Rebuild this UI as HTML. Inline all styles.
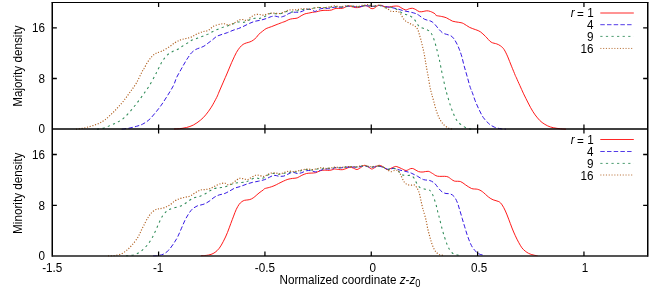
<!DOCTYPE html>
<html><head><meta charset="utf-8"><title>plot</title>
<style>
html,body{margin:0;padding:0;background:#fff;}
svg{display:block;}
text{font-family:"Liberation Sans",sans-serif;font-size:11.7px;fill:#000;}
</style></head><body>
<svg width="654" height="291" viewBox="0 0 654 291">
<rect width="654" height="291" fill="#fff"/>
<g fill="none" stroke-linecap="butt" stroke-linejoin="round">
<path d="M174.0,129.0C174.9,128.9 177.5,128.9 179.6,128.7C181.7,128.4 184.2,128.1 186.5,127.5C188.8,126.9 191.1,126.2 193.4,125.0C195.7,123.8 198.2,122.0 200.3,120.3C202.4,118.6 204.0,117.0 205.8,114.8C207.6,112.6 209.5,110.1 211.3,107.2C213.1,104.3 215.3,100.1 216.6,97.6C217.9,95.1 218.2,93.9 219.0,92.0C219.8,90.1 220.7,88.0 221.6,86.0C222.5,84.0 223.4,81.8 224.2,80.0C225.0,78.2 225.7,76.7 226.4,75.0C227.1,73.3 227.8,71.7 228.5,70.0C229.2,68.3 229.9,66.7 230.6,65.0C231.3,63.3 231.8,62.1 232.8,60.0C233.8,57.9 235.2,54.6 236.4,52.5C237.6,50.4 238.7,48.9 239.8,47.5C240.9,46.1 242.0,45.2 243.1,44.4C244.2,43.6 245.4,43.3 246.5,42.9C247.6,42.5 248.8,42.4 249.9,41.9C251.0,41.5 252.1,41.0 253.2,40.2C254.3,39.4 255.7,38.1 256.6,37.2C257.5,36.3 257.5,35.6 258.5,34.6C259.5,33.6 261.3,32.2 262.6,31.2C263.9,30.2 264.6,29.4 266.1,28.6C267.6,27.8 269.8,27.3 271.6,26.6C273.4,25.9 275.3,25.1 277.1,24.4C278.9,23.7 281.3,22.8 282.6,22.3C283.9,21.8 284.0,21.9 285.0,21.5C286.0,21.1 287.5,20.1 288.8,19.6C290.1,19.1 291.2,18.9 292.6,18.7C294.0,18.4 295.8,18.6 297.2,18.1C298.6,17.6 299.8,16.5 301.1,15.8C302.4,15.1 303.6,14.4 304.9,13.9C306.2,13.4 307.4,13.4 308.7,13.1C310.0,12.8 311.2,12.5 312.5,12.3C313.8,12.1 315.0,12.1 316.3,11.8C317.6,11.6 318.9,11.1 320.2,10.8C321.5,10.6 322.7,10.4 324.0,10.3C325.3,10.2 326.5,10.5 327.8,10.4C329.1,10.3 330.4,10.3 331.6,10.0C332.8,9.7 333.8,8.9 335.0,8.6C336.2,8.3 337.5,8.4 338.8,8.4C340.1,8.4 341.5,8.6 342.6,8.3C343.8,8.1 344.7,7.3 345.7,6.9C346.7,6.5 347.8,6.1 348.8,6.1C349.8,6.1 350.7,6.5 351.8,6.7C352.9,7.0 354.3,7.5 355.6,7.6C356.9,7.7 358.2,7.6 359.5,7.3C360.8,7.0 362.2,6.3 363.3,6.0C364.4,5.7 365.4,5.5 366.3,5.7C367.2,5.9 367.8,6.5 368.6,6.9C369.4,7.4 370.1,8.1 370.9,8.4C371.7,8.7 372.4,8.8 373.2,8.6C374.0,8.4 374.7,7.8 375.5,7.3C376.3,6.8 377.0,6.0 377.8,5.7C378.6,5.4 379.3,5.3 380.1,5.3C380.9,5.3 381.5,5.5 382.4,5.8C383.3,6.1 384.4,6.7 385.5,6.9C386.6,7.1 387.8,7.0 389.2,6.9C390.6,6.8 392.3,6.3 393.8,6.2C395.3,6.1 396.9,5.8 398.3,6.2C399.7,6.6 400.8,7.7 402.0,8.3C403.2,8.9 404.5,9.8 405.7,9.9C406.9,10.0 408.2,9.0 409.4,8.7C410.5,8.4 411.5,8.2 412.6,8.3C413.7,8.5 414.7,9.0 415.8,9.6C416.9,10.2 418.2,11.4 419.4,11.7C420.6,12.0 421.9,11.7 423.1,11.5C424.3,11.3 425.6,10.8 426.8,10.8C428.0,10.8 429.1,11.0 430.5,11.5C431.9,12.0 434.0,13.1 435.0,13.8C436.0,14.5 435.2,15.1 436.3,15.5C437.4,15.9 440.0,16.1 441.7,16.5C443.4,16.9 444.6,17.0 446.4,17.8C448.2,18.6 450.6,20.4 452.6,21.2C454.7,21.9 456.9,21.9 458.7,22.3C460.5,22.7 461.6,22.6 463.4,23.5C465.2,24.4 467.6,26.4 469.6,27.4C471.7,28.4 473.9,29.0 475.7,29.7C477.5,30.4 478.8,30.7 480.4,31.8C482.0,32.9 483.8,34.8 485.6,36.5C487.4,38.2 489.2,40.9 491.1,42.1C493.0,43.3 495.1,43.3 496.7,43.9C498.2,44.5 499.2,44.9 500.4,45.8C501.6,46.7 502.9,47.6 504.1,49.5C505.3,51.4 506.6,54.1 507.8,56.9C509.0,59.7 510.2,63.1 511.5,66.2C512.8,69.3 514.5,73.5 515.3,75.5C516.1,77.5 515.8,76.3 516.5,78.0C517.2,79.7 518.6,82.8 519.8,85.4C521.0,88.0 522.2,90.9 523.6,93.8C525.0,96.7 526.7,100.1 528.2,103.0C529.7,105.9 531.2,108.9 532.8,111.4C534.3,113.9 536.0,116.1 537.5,117.9C539.0,119.8 540.4,121.2 542.1,122.5C543.8,123.8 545.9,125.0 547.7,125.9C549.6,126.8 551.0,127.2 553.2,127.7C555.4,128.2 558.6,128.6 560.7,128.8C562.8,129.1 565.1,129.1 566.0,129.2" stroke="#ff0000" stroke-width="0.9"/>
<path d="M121.7,129.2C122.9,129.0 126.5,128.7 129.0,128.2C131.5,127.7 134.2,127.0 136.5,126.3C138.8,125.6 140.6,125.2 142.7,124.1C144.8,123.0 146.8,121.7 148.9,119.9C151.0,118.1 152.9,115.7 155.0,113.2C157.1,110.7 159.2,108.0 161.3,105.1C163.4,102.2 165.4,98.9 167.5,95.6C169.6,92.3 172.1,88.3 173.6,85.3C175.1,82.2 175.4,80.0 176.7,77.3C178.0,74.6 179.9,71.6 181.2,69.2C182.5,66.8 183.5,65.0 184.7,63.0C185.8,61.0 186.9,59.2 188.1,57.5C189.2,55.8 190.3,54.0 191.6,52.7C192.9,51.4 194.3,50.3 195.7,49.5C197.1,48.7 198.4,48.4 199.8,47.9C201.2,47.4 202.5,47.0 203.9,46.2C205.3,45.4 206.7,44.2 208.1,43.1C209.5,42.0 211.0,41.0 212.4,39.9C213.8,38.8 214.9,37.4 216.5,36.5C218.1,35.6 220.2,35.0 222.0,34.4C223.8,33.8 225.7,33.3 227.5,32.6C229.3,31.9 231.2,31.0 233.0,30.3C234.8,29.6 236.7,29.2 238.5,28.5C240.3,27.8 242.2,27.0 244.0,26.1C245.8,25.2 247.7,24.2 249.5,23.4C251.3,22.6 253.2,21.8 255.0,21.3C256.8,20.8 258.6,20.6 260.5,20.2C262.4,19.8 264.2,19.2 266.1,18.6C268.0,18.0 270.0,16.9 271.6,16.5C273.2,16.1 274.3,16.1 275.7,16.2C277.1,16.3 278.4,17.2 279.8,17.2C281.2,17.2 282.9,16.5 283.9,16.2C284.9,15.9 285.0,15.8 285.8,15.4C286.6,15.0 287.7,14.0 288.8,13.5C289.9,13.0 291.3,12.5 292.6,12.3C293.9,12.1 295.4,12.3 296.5,12.3C297.6,12.3 298.5,12.3 299.5,12.1C300.5,11.9 301.6,11.6 302.6,11.2C303.6,10.8 304.6,9.9 305.6,9.6C306.6,9.3 307.7,9.3 308.7,9.3C309.7,9.3 310.5,9.3 311.4,9.6C312.3,9.9 313.4,10.9 314.1,11.2C314.8,11.5 315.0,11.5 315.6,11.3C316.2,11.1 317.0,10.4 317.9,10.0C318.8,9.6 319.8,8.9 320.9,8.7C322.0,8.4 323.5,8.6 324.8,8.5C326.1,8.4 327.5,8.4 328.6,8.3C329.7,8.2 330.6,7.9 331.6,7.7C332.6,7.5 333.6,7.3 334.7,7.2C335.8,7.1 336.8,7.2 338.0,7.2C339.2,7.2 340.7,7.3 342.0,7.2C343.3,7.1 344.7,6.6 346.0,6.4C347.3,6.2 348.7,6.0 350.0,6.0C351.3,6.0 352.7,6.4 354.0,6.6C355.3,6.8 356.7,7.1 358.0,7.0C359.3,6.9 360.7,6.4 362.0,6.2C363.3,6.0 364.7,5.7 366.0,5.7C367.3,5.7 368.7,6.1 370.0,6.2C371.3,6.3 372.8,6.5 374.0,6.4C375.2,6.3 376.0,5.9 377.0,5.7C378.0,5.5 378.3,5.3 380.0,5.5C381.7,5.7 385.2,6.5 387.3,6.9C389.4,7.3 391.0,7.4 392.8,7.8C394.6,8.2 396.5,8.7 398.3,9.2C400.1,9.7 402.0,10.4 403.9,10.8C405.8,11.2 407.6,11.5 409.4,11.9C411.2,12.3 413.4,12.8 414.9,13.3C416.4,13.8 416.9,14.0 418.5,15.0C420.1,16.0 422.6,18.3 424.7,19.3C426.8,20.3 429.2,20.4 430.9,21.2C432.6,22.0 433.5,23.0 434.8,24.3C436.1,25.6 437.3,27.5 438.6,28.9C439.9,30.3 441.2,31.9 442.5,32.8C443.8,33.7 445.0,33.8 446.4,34.3C447.8,34.8 449.7,35.1 451.0,35.9C452.3,36.7 453.1,37.6 454.1,39.0C455.1,40.4 456.3,42.6 457.2,44.4C458.1,46.2 458.7,47.8 459.5,49.8C460.3,51.8 461.0,53.9 461.8,56.6C462.6,59.3 463.2,62.5 464.1,65.8C465.0,69.1 466.2,73.0 467.2,76.6C468.2,80.2 469.4,84.8 470.3,87.5C471.2,90.2 471.5,90.4 472.3,92.5C473.1,94.6 473.9,97.4 475.0,100.3C476.1,103.2 477.8,107.0 479.2,109.9C480.6,112.8 481.7,115.2 483.3,117.5C484.9,119.8 487.0,122.0 488.8,123.6C490.6,125.2 492.2,126.2 494.3,127.1C496.4,128.0 499.2,128.5 501.2,128.8C503.1,129.2 505.2,129.1 506.0,129.2" stroke="#3418e4" stroke-width="1.0" stroke-dasharray="4.47 2.23"/>
<path d="M97.0,129.2C98.2,129.0 101.5,128.7 104.0,128.0C106.5,127.3 109.5,125.8 111.8,124.8C114.1,123.8 115.9,123.1 118.0,121.9C120.1,120.7 122.2,119.5 124.2,117.7C126.2,115.9 128.2,113.7 130.3,111.3C132.4,108.9 134.4,106.3 136.5,103.6C138.6,100.9 140.6,98.2 142.7,95.3C144.8,92.4 146.8,89.6 148.9,86.3C151.0,83.0 153.4,78.5 155.0,75.5C156.6,72.5 157.4,70.6 158.5,68.5C159.6,66.4 160.4,64.6 161.3,63.0C162.2,61.4 163.0,60.3 164.0,58.9C165.0,57.5 166.1,56.0 167.5,54.8C168.9,53.6 170.6,52.6 172.3,51.7C174.0,50.8 176.2,50.2 177.8,49.3C179.4,48.4 180.3,47.5 181.9,46.5C183.5,45.5 185.8,44.1 187.4,43.1C189.0,42.1 190.0,41.1 191.6,40.3C193.2,39.5 195.3,39.0 197.1,38.3C198.9,37.6 200.8,36.9 202.6,36.2C204.4,35.5 206.2,35.0 208.1,34.1C210.0,33.2 211.7,32.0 213.8,31.0C215.9,30.0 218.3,29.1 220.6,28.2C222.9,27.3 225.2,26.7 227.5,25.9C229.8,25.1 232.6,24.0 234.4,23.4C236.2,22.8 237.1,22.2 238.5,22.0C239.9,21.8 241.3,22.5 242.7,22.4C244.1,22.3 245.4,21.8 246.8,21.3C248.2,20.8 249.5,19.8 250.9,19.3C252.3,18.8 253.6,18.3 255.0,18.2C256.4,18.1 257.8,18.8 259.2,18.6C260.6,18.4 261.9,17.8 263.3,17.2C264.7,16.6 266.0,15.6 267.4,14.9C268.8,14.2 270.2,13.5 271.6,13.3C273.0,13.1 274.3,13.7 275.7,13.8C277.1,13.9 278.4,14.0 279.8,13.8C281.2,13.6 282.8,13.2 283.9,12.8C285.0,12.4 285.1,11.7 286.5,11.6C287.9,11.5 290.1,12.1 292.0,12.0C293.9,11.9 295.8,11.2 297.6,10.8C299.4,10.4 300.9,9.8 302.6,9.6C304.3,9.3 306.0,9.6 307.9,9.3C309.8,9.1 312.2,8.4 314.1,8.1C316.0,7.8 317.6,7.6 319.4,7.5C321.2,7.4 322.9,7.8 324.8,7.7C326.7,7.6 329.2,7.2 330.9,7.0C332.5,6.8 333.5,6.6 334.7,6.6C335.9,6.6 336.8,6.9 338.0,6.9C339.2,7.0 340.7,7.0 342.0,6.9C343.3,6.8 344.7,6.4 346.0,6.2C347.3,6.0 348.7,5.9 350.0,5.9C351.3,5.9 352.7,6.3 354.0,6.4C355.3,6.5 356.7,6.8 358.0,6.7C359.3,6.6 360.7,6.2 362.0,6.0C363.3,5.8 364.7,5.6 366.0,5.6C367.3,5.6 368.7,5.9 370.0,6.0C371.3,6.1 372.8,6.3 374.0,6.2C375.2,6.1 376.0,5.7 377.0,5.6C378.0,5.5 378.6,5.1 380.0,5.5C381.4,5.9 383.7,7.5 385.5,7.8C387.3,8.1 389.3,7.2 391.0,7.3C392.7,7.4 394.1,7.9 395.6,8.7C397.1,9.5 398.7,11.0 400.2,11.9C401.7,12.8 403.3,13.6 404.8,14.2C406.3,14.8 407.8,14.6 409.3,15.4C410.8,16.2 412.6,17.5 413.9,18.9C415.2,20.2 416.0,22.1 417.0,23.5C418.0,24.9 418.4,26.1 420.1,27.1C421.8,28.1 425.2,28.8 427.0,29.7C428.8,30.6 429.9,31.5 430.9,32.8C431.9,34.1 432.4,35.5 433.2,37.4C434.0,39.3 434.9,42.2 435.5,44.4C436.1,46.6 436.6,48.5 437.1,50.5C437.6,52.5 438.2,55.2 438.6,56.7C439.0,58.2 439.0,58.0 439.4,59.8C439.8,61.6 440.3,64.3 440.9,67.4C441.5,70.5 442.4,74.6 443.2,78.2C444.0,81.8 444.9,86.5 445.5,89.0C446.1,91.5 446.1,91.2 446.8,93.5C447.5,95.8 448.6,99.8 449.6,103.0C450.6,106.2 451.7,109.6 453.0,112.6C454.3,115.6 455.6,118.7 457.2,120.9C458.8,123.1 460.9,124.6 462.7,125.9C464.5,127.2 466.5,128.0 468.2,128.5C469.9,129.1 472.2,129.1 473.0,129.2" stroke="#2e8b57" stroke-width="1.05" stroke-dasharray="2.23 3.35"/>
<path d="M76.0,129.2C77.0,129.1 80.2,128.7 82.0,128.4C83.8,128.1 85.3,127.8 87.1,127.3C88.9,126.8 90.9,126.3 93.0,125.6C95.1,124.9 97.4,124.1 99.5,123.1C101.6,122.1 103.5,121.0 105.5,119.4C107.5,117.8 109.7,115.7 111.8,113.7C113.9,111.7 115.9,109.6 118.0,107.3C120.1,105.0 122.2,102.7 124.2,100.1C126.2,97.5 128.2,94.7 130.3,91.8C132.4,88.9 134.4,86.3 136.5,82.8C138.6,79.2 141.4,72.9 142.7,70.5C144.0,68.1 143.3,69.9 144.1,68.5C144.9,67.1 146.2,64.2 147.5,62.3C148.8,60.3 150.2,58.3 151.6,56.8C153.0,55.3 154.2,54.3 155.8,53.4C157.4,52.5 159.2,52.3 161.3,51.3C163.4,50.3 165.9,49.0 168.2,47.6C170.5,46.2 172.9,44.0 175.0,42.7C177.1,41.4 178.7,40.6 180.5,39.9C182.3,39.2 184.2,39.0 186.1,38.5C187.9,38.0 189.8,37.7 191.6,36.9C193.4,36.1 195.3,34.8 197.1,33.9C198.9,33.0 200.8,32.3 202.6,31.7C204.4,31.1 206.2,31.4 208.1,30.5C210.0,29.6 211.7,27.2 213.8,26.1C215.9,25.0 218.9,24.5 220.6,24.1C222.3,23.7 222.9,23.6 224.1,23.7C225.2,23.8 226.3,24.7 227.5,24.8C228.7,24.9 229.6,25.0 231.0,24.5C232.4,24.0 234.3,22.8 235.8,22.0C237.3,21.2 238.5,20.1 239.9,19.7C241.3,19.3 242.8,19.5 244.0,19.7C245.2,19.9 245.7,21.0 246.8,20.6C248.0,20.2 249.5,18.2 250.9,17.2C252.3,16.2 253.6,15.2 255.0,14.7C256.4,14.2 257.8,14.3 259.2,14.4C260.6,14.5 261.9,15.2 263.3,15.1C264.7,15.0 266.0,14.3 267.4,14.0C268.8,13.7 270.2,13.2 271.6,13.1C273.0,13.0 274.3,13.2 275.7,13.3C277.1,13.4 278.4,13.7 279.8,13.5C281.2,13.3 282.8,12.5 283.9,12.1C285.0,11.7 285.6,11.2 286.5,10.8C287.4,10.5 288.5,10.2 289.6,10.0C290.8,9.8 292.0,10.0 293.4,9.9C294.8,9.8 296.5,9.8 298.0,9.6C299.5,9.4 301.1,8.8 302.6,8.7C304.1,8.6 305.8,8.8 307.2,8.9C308.6,9.0 309.9,9.2 311.0,9.0C312.1,8.8 312.8,8.3 314.1,8.0C315.4,7.7 317.1,7.5 318.6,7.4C320.1,7.4 321.7,7.7 323.2,7.7C324.7,7.7 326.5,7.4 327.8,7.2C329.1,7.0 329.9,6.8 330.9,6.6C331.9,6.4 332.7,5.8 333.9,5.8C335.1,5.8 336.6,6.3 338.0,6.4C339.4,6.5 340.7,6.7 342.0,6.6C343.3,6.5 344.7,6.0 346.0,5.8C347.3,5.6 348.7,5.5 350.0,5.6C351.3,5.7 352.7,6.1 354.0,6.2C355.3,6.3 356.7,6.5 358.0,6.4C359.3,6.3 360.7,5.7 362.0,5.4C363.3,5.2 365.0,5.0 366.0,4.9C367.0,4.8 367.2,4.5 368.0,4.6C368.8,4.7 370.0,5.3 371.0,5.6C372.0,5.9 373.0,6.2 374.0,6.2C375.0,6.2 376.0,5.6 377.0,5.4C378.0,5.2 378.7,4.8 380.0,5.0C381.3,5.2 383.2,6.2 384.6,6.9C386.0,7.6 387.2,8.5 388.3,9.2C389.4,9.9 389.9,10.9 391.0,11.3C392.1,11.7 393.5,11.4 394.7,11.5C395.9,11.6 397.3,11.3 398.3,11.7C399.3,12.1 399.8,12.8 400.6,13.8C401.4,14.8 402.0,16.7 402.9,17.9C403.8,19.1 404.6,20.2 405.7,21.1C406.8,22.0 408.3,22.7 409.4,23.3C410.5,23.9 411.4,24.1 412.4,24.6C413.4,25.2 414.6,25.8 415.5,26.6C416.4,27.5 417.2,28.4 417.8,29.7C418.4,31.0 418.8,32.6 419.3,34.3C419.8,36.0 420.4,37.8 420.9,39.7C421.4,41.6 421.9,43.7 422.4,45.9C422.9,48.1 423.5,50.5 424.0,52.9C424.5,55.2 424.8,57.9 425.2,60.0C425.6,62.1 425.7,63.0 426.2,65.8C426.7,68.6 427.5,73.0 428.2,76.6C428.9,80.2 429.5,84.6 430.1,87.5C430.7,90.4 431.1,91.7 431.7,94.0C432.3,96.3 433.0,98.7 433.8,101.6C434.6,104.5 435.5,108.3 436.5,111.3C437.5,114.3 438.7,117.2 440.0,119.5C441.3,121.8 442.6,123.5 444.1,125.0C445.6,126.5 447.4,127.6 448.9,128.3C450.4,129.0 452.3,129.0 453.0,129.2" stroke="#b06020" stroke-width="1.15" stroke-dasharray="1.12 1.68"/>
<path d="M201.0,255.7C201.9,255.6 204.5,255.6 206.2,255.4C207.9,255.2 209.5,254.9 211.0,254.4C212.5,253.9 213.7,253.3 215.1,252.3C216.5,251.3 217.9,250.0 219.3,248.2C220.7,246.4 222.0,243.9 223.4,241.3C224.8,238.7 226.3,235.4 227.5,232.4C228.7,229.4 229.8,226.2 230.8,223.5C231.8,220.8 232.7,218.5 233.6,216.1C234.5,213.7 235.4,211.2 236.3,209.3C237.2,207.4 238.2,205.7 239.1,204.4C240.0,203.1 240.9,202.4 241.8,201.7C242.7,201.0 243.6,200.6 244.6,200.3C245.6,200.0 246.8,200.1 248.0,199.9C249.2,199.7 250.3,199.5 251.5,198.9C252.7,198.3 253.7,197.6 254.9,196.6C256.1,195.6 257.6,194.1 259.0,193.0C260.4,191.9 262.2,190.7 263.2,190.0C264.1,189.3 263.7,189.0 264.7,188.6C265.7,188.2 267.8,187.9 269.4,187.4C270.9,186.9 272.5,186.5 274.0,185.8C275.5,185.2 277.1,184.3 278.6,183.5C280.2,182.7 281.8,181.9 283.3,181.2C284.9,180.5 286.3,179.8 287.9,179.3C289.4,178.8 291.1,178.7 292.6,178.4C294.2,178.2 295.7,178.3 297.2,177.8C298.7,177.3 300.2,176.0 301.8,175.3C303.4,174.6 304.9,173.9 306.5,173.5C308.1,173.1 309.6,173.2 311.1,173.1C312.6,173.0 314.1,173.1 315.7,172.7C317.2,172.3 318.8,171.1 320.4,170.7C321.9,170.3 323.5,170.1 325.0,170.1C326.5,170.1 328.1,170.6 329.6,170.4C331.2,170.2 333.4,169.3 334.3,169.1C335.2,168.9 334.3,168.9 335.0,169.0C335.7,169.1 337.5,169.4 338.7,169.5C339.9,169.6 341.1,169.8 342.3,169.7C343.5,169.5 344.8,169.0 346.0,168.6C347.2,168.2 348.5,167.3 349.7,167.2C350.9,167.1 352.1,167.7 353.3,168.1C354.5,168.5 355.8,169.6 357.0,169.5C358.2,169.4 359.5,168.3 360.7,167.6C361.9,166.9 363.2,165.5 364.4,165.3C365.6,165.2 366.8,166.1 368.0,166.7C369.2,167.3 370.5,168.9 371.7,169.0C372.9,169.1 374.2,167.8 375.4,167.2C376.6,166.6 377.8,165.4 379.0,165.3C380.2,165.2 381.5,166.1 382.7,166.7C383.9,167.3 385.5,168.5 386.4,169.0C387.3,169.5 387.4,169.8 388.2,169.7C389.0,169.6 389.9,168.8 391.0,168.3C392.1,167.8 393.6,167.0 394.6,166.7C395.6,166.4 395.7,166.3 396.8,166.6C397.9,166.9 399.9,167.9 401.5,168.6C403.1,169.2 404.6,170.5 406.1,170.5C407.6,170.5 409.4,168.9 410.7,168.6C412.0,168.3 412.5,168.4 413.8,168.9C415.1,169.4 416.9,171.1 418.5,171.6C420.1,172.1 421.5,172.1 423.1,172.0C424.7,171.9 426.6,171.1 428.2,171.3C429.8,171.5 430.8,172.6 432.4,173.4C433.9,174.2 435.1,175.7 437.5,176.2C439.9,176.7 444.4,176.0 446.7,176.5C449.0,177.0 450.1,178.5 451.4,179.3C452.7,180.1 453.0,180.7 454.5,181.1C456.0,181.5 458.8,181.0 460.6,181.6C462.4,182.2 463.5,183.5 465.3,184.7C467.1,185.8 469.4,187.7 471.5,188.5C473.6,189.3 475.8,188.8 477.6,189.3C479.4,189.8 480.5,190.3 482.3,191.6C484.1,192.9 486.7,195.6 488.5,197.0C490.3,198.4 491.4,199.0 493.1,199.8C494.8,200.6 497.3,200.8 498.8,201.6C500.3,202.4 501.0,203.3 502.1,204.9C503.2,206.5 504.3,208.6 505.4,211.0C506.5,213.4 507.6,216.4 508.7,219.2C509.8,222.0 510.9,225.2 512.0,228.0C513.1,230.8 514.2,233.3 515.3,235.7C516.4,238.1 517.5,240.3 518.6,242.3C519.7,244.3 520.8,246.3 521.9,247.8C523.0,249.3 524.1,250.2 525.2,251.1C526.3,252.0 527.4,252.7 528.5,253.3C529.6,253.9 530.7,254.2 531.8,254.6C532.9,254.9 534.0,255.2 535.0,255.4C536.0,255.6 537.1,255.6 537.5,255.7" stroke="#ff0000" stroke-width="0.9"/>
<path d="M153.0,255.8C153.8,255.8 156.1,255.8 157.8,255.5C159.5,255.2 161.5,255.1 163.3,254.2C165.1,253.3 167.0,251.9 168.8,250.0C170.6,248.1 172.7,245.0 174.2,242.7C175.7,240.4 176.7,238.8 177.9,236.4C179.1,234.0 180.3,230.9 181.5,228.2C182.7,225.5 183.9,222.4 185.1,220.0C186.3,217.6 187.6,215.4 188.8,213.6C190.0,211.8 190.8,210.5 192.2,209.2C193.6,207.9 195.3,206.8 197.3,205.9C199.3,205.1 202.0,204.9 204.0,204.1C206.0,203.3 207.4,202.4 209.1,201.3C210.8,200.2 212.4,198.5 214.1,197.4C215.8,196.3 217.5,195.5 219.2,194.9C220.9,194.3 222.5,194.3 224.2,193.7C225.9,193.1 227.6,192.1 229.3,191.2C231.0,190.3 232.5,189.1 234.3,188.3C236.1,187.5 238.0,187.3 240.0,186.6C242.0,185.9 244.1,185.0 246.2,184.3C248.3,183.6 250.3,182.9 252.4,182.4C254.5,181.9 256.4,181.7 258.5,181.2C260.6,180.7 262.9,180.2 264.7,179.6C266.5,178.9 267.8,178.0 269.4,177.3C270.9,176.6 272.5,175.5 274.0,175.3C275.5,175.1 277.1,176.0 278.6,176.2C280.2,176.3 281.8,176.5 283.3,176.2C284.9,175.9 286.3,174.9 287.9,174.2C289.4,173.5 291.1,172.3 292.6,172.2C294.2,172.1 295.7,173.4 297.2,173.5C298.7,173.6 300.2,173.2 301.8,172.7C303.4,172.2 304.9,171.0 306.5,170.7C308.1,170.4 309.6,170.5 311.1,170.7C312.6,170.9 314.1,171.9 315.7,171.9C317.2,171.9 318.8,170.9 320.4,170.4C321.9,169.9 322.9,169.4 325.0,169.1C327.1,168.8 331.0,169.1 332.7,168.8C334.4,168.6 333.7,167.8 335.0,167.6C336.3,167.4 338.7,168.0 340.5,167.9C342.3,167.8 344.2,167.3 346.0,167.2C347.8,167.0 349.7,167.0 351.5,167.0C353.3,167.0 355.3,167.3 357.0,167.2C358.7,167.1 360.2,166.5 361.6,166.3C363.0,166.1 363.9,165.9 365.3,166.1C366.7,166.2 368.5,167.0 369.9,167.2C371.3,167.3 372.0,167.2 373.5,167.0C375.0,166.8 377.5,166.3 379.0,166.3C380.5,166.3 381.5,166.8 382.7,167.2C383.9,167.6 385.3,168.4 386.4,168.8C387.5,169.2 388.2,169.5 389.1,169.5C390.0,169.5 391.0,168.8 391.9,168.6C392.8,168.4 393.3,168.2 394.6,168.4C395.9,168.7 398.0,169.6 399.9,170.1C401.8,170.6 404.2,171.0 406.1,171.5C408.0,172.0 409.3,172.3 411.2,173.1C413.1,173.9 415.3,175.1 417.4,176.2C419.4,177.3 421.4,178.9 423.5,179.6C425.6,180.3 427.9,179.9 429.7,180.5C431.5,181.1 433.0,181.9 434.4,183.1C435.8,184.3 436.9,186.3 438.2,187.8C439.5,189.3 440.8,191.0 442.1,191.9C443.4,192.8 444.6,193.2 446.0,193.5C447.4,193.8 449.2,193.4 450.6,194.0C452.0,194.6 453.3,195.5 454.5,197.0C455.7,198.5 456.7,201.0 457.6,203.2C458.5,205.4 458.9,207.5 459.7,210.0C460.5,212.5 461.4,215.6 462.2,218.4C463.0,221.2 463.8,224.0 464.7,226.8C465.6,229.6 466.4,232.8 467.3,235.3C468.2,237.8 469.0,240.0 469.8,242.0C470.6,244.0 471.5,245.7 472.3,247.1C473.1,248.5 474.0,249.4 474.9,250.4C475.8,251.4 476.4,252.3 477.4,253.0C478.4,253.7 479.5,254.2 480.8,254.6C482.1,255.0 484.3,255.3 485.0,255.4" stroke="#3418e4" stroke-width="1.0" stroke-dasharray="4.47 2.23"/>
<path d="M126.0,255.8C126.8,255.8 128.8,255.8 130.5,255.5C132.2,255.2 134.2,255.0 136.0,254.2C137.8,253.4 139.6,252.4 141.4,250.9C143.2,249.4 145.2,247.5 146.9,245.5C148.6,243.5 150.0,241.4 151.4,239.1C152.8,236.8 153.9,234.4 155.1,231.8C156.3,229.2 157.5,226.2 158.7,223.6C159.9,221.0 161.0,218.4 162.4,216.3C163.8,214.2 165.3,212.2 166.9,210.9C168.5,209.6 170.0,209.1 172.0,208.4C174.0,207.7 176.7,207.4 178.7,206.7C180.7,206.1 182.1,205.5 183.8,204.5C185.5,203.5 187.2,201.9 188.9,200.8C190.6,199.7 192.2,198.5 193.9,197.8C195.6,197.1 197.3,197.2 199.0,196.6C200.7,196.0 202.3,195.4 204.0,194.5C205.7,193.6 207.4,192.2 209.1,191.2C210.8,190.2 212.4,189.2 214.1,188.6C215.8,188.0 217.5,188.1 219.2,187.8C220.9,187.5 222.5,187.4 224.2,187.0C225.9,186.6 227.6,185.9 229.3,185.3C231.0,184.7 232.6,183.6 234.3,183.2C236.0,182.8 237.7,182.8 239.4,182.6C241.1,182.4 243.3,182.3 244.4,182.2C245.5,182.1 245.1,182.4 246.2,182.0C247.3,181.6 249.2,180.3 250.8,179.6C252.4,178.9 253.9,177.9 255.5,177.8C257.1,177.7 258.6,179.0 260.1,178.9C261.6,178.8 263.1,178.1 264.7,177.3C266.2,176.5 267.8,174.8 269.4,174.2C270.9,173.6 272.5,173.5 274.0,173.5C275.5,173.5 277.1,174.2 278.6,174.2C280.2,174.2 281.8,173.8 283.3,173.5C284.9,173.2 286.3,173.0 287.9,172.7C289.4,172.4 291.1,171.7 292.6,171.6C294.2,171.5 295.7,172.1 297.2,171.9C298.7,171.7 300.2,170.8 301.8,170.4C303.4,170.0 304.9,169.7 306.5,169.6C308.1,169.5 309.3,170.2 311.1,170.1C312.9,170.0 315.0,169.4 317.3,169.1C319.6,168.8 322.4,168.7 325.0,168.5C327.6,168.3 331.0,168.2 332.7,168.0C334.4,167.8 333.7,167.4 335.0,167.4C336.3,167.4 338.7,167.8 340.5,167.7C342.3,167.6 344.2,167.2 346.0,167.0C347.8,166.8 349.7,166.8 351.5,166.8C353.3,166.8 355.3,167.1 357.0,167.0C358.7,166.9 360.2,166.3 361.6,166.1C363.0,165.9 363.9,165.8 365.3,165.9C366.7,166.1 368.5,166.8 369.9,167.0C371.3,167.2 372.0,167.0 373.5,166.8C375.0,166.7 377.5,166.1 379.0,166.1C380.5,166.1 381.5,166.6 382.7,167.0C383.9,167.4 385.4,168.2 386.4,168.6C387.4,169.0 387.5,169.4 388.5,169.3C389.5,169.2 390.8,168.0 392.2,168.1C393.6,168.2 395.5,168.9 396.8,169.7C398.1,170.5 398.9,171.9 399.9,172.8C400.9,173.7 401.7,174.7 403.0,175.1C404.3,175.5 406.2,175.3 407.6,175.4C409.0,175.5 410.1,175.1 411.2,175.6C412.3,176.1 413.4,177.2 414.3,178.5C415.2,179.8 415.7,181.6 416.6,183.1C417.5,184.6 418.4,186.3 419.7,187.3C421.0,188.3 422.8,188.5 424.3,188.9C425.9,189.3 427.7,189.1 429.0,189.8C430.3,190.5 431.1,191.6 432.0,193.2C432.9,194.8 433.6,197.1 434.4,199.4C435.2,201.7 436.1,205.0 436.7,207.1C437.3,209.2 437.3,210.1 437.8,212.0C438.3,213.9 438.8,215.7 439.5,218.4C440.2,221.2 441.2,225.4 442.0,228.5C442.8,231.6 443.6,234.3 444.5,237.0C445.4,239.7 446.2,242.4 447.1,244.5C448.0,246.6 448.6,248.1 449.6,249.6C450.6,251.1 451.7,252.6 453.0,253.5C454.3,254.4 455.9,254.7 457.2,255.0C458.5,255.3 460.4,255.3 461.0,255.4" stroke="#2e8b57" stroke-width="1.05" stroke-dasharray="2.23 3.35"/>
<path d="M108.0,255.9C109.0,255.8 111.9,255.9 114.1,255.6C116.3,255.2 119.3,254.7 121.4,253.8C123.5,252.9 125.1,251.6 126.9,250.1C128.7,248.6 130.5,246.8 132.3,244.7C134.1,242.6 136.3,239.8 137.8,237.4C139.3,235.0 140.2,232.5 141.4,230.1C142.6,227.7 143.9,225.1 145.1,222.8C146.3,220.5 147.5,218.2 148.7,216.4C149.9,214.6 151.0,213.1 152.4,211.9C153.8,210.7 155.6,209.6 156.9,209.1C158.2,208.6 158.6,209.0 160.0,208.7C161.4,208.4 163.6,208.0 165.3,207.3C167.0,206.6 168.6,205.7 170.3,204.6C172.0,203.5 173.7,201.6 175.4,200.6C177.1,199.6 178.7,199.0 180.4,198.4C182.1,197.8 183.8,197.6 185.5,197.2C187.2,196.8 188.8,196.7 190.5,195.9C192.2,195.1 193.9,193.5 195.6,192.5C197.3,191.5 198.9,190.5 200.6,190.0C202.3,189.5 204.0,189.8 205.7,189.5C207.4,189.2 209.1,189.0 210.8,188.3C212.5,187.7 214.1,186.4 215.8,185.6C217.5,184.8 219.4,184.0 220.9,183.6C222.4,183.2 223.8,183.0 225.1,183.2C226.3,183.4 227.1,184.8 228.4,184.8C229.7,184.8 231.3,183.9 232.7,183.1C234.1,182.2 235.7,180.5 236.9,179.7C238.2,178.9 239.0,178.3 240.2,178.2C241.4,178.1 242.7,178.7 243.9,178.9C245.2,179.1 246.4,179.9 247.7,179.6C249.0,179.3 250.3,178.0 251.6,177.3C252.9,176.6 254.2,175.6 255.5,175.3C256.8,175.0 258.0,175.1 259.3,175.3C260.6,175.5 261.9,176.6 263.2,176.5C264.5,176.4 265.7,175.6 267.0,175.0C268.3,174.4 269.5,173.4 270.9,173.1C272.3,172.8 273.9,172.9 275.5,173.0C277.1,173.1 278.6,174.0 280.2,173.9C281.8,173.8 283.2,172.7 284.8,172.2C286.4,171.7 287.9,171.2 289.5,171.1C291.1,171.0 292.6,171.7 294.1,171.6C295.6,171.5 297.1,171.0 298.7,170.7C300.2,170.4 301.8,169.9 303.4,169.6C304.9,169.3 306.4,169.1 308.0,169.1C309.6,169.1 311.1,169.7 312.7,169.6C314.2,169.5 315.8,168.8 317.3,168.5C318.8,168.2 320.3,167.7 321.9,167.7C323.4,167.7 324.8,168.5 326.6,168.5C328.4,168.5 331.3,167.8 332.7,167.6C334.1,167.4 333.7,167.1 335.0,167.1C336.3,167.1 338.7,167.5 340.5,167.4C342.3,167.3 344.2,166.8 346.0,166.7C347.8,166.5 349.7,166.5 351.5,166.5C353.3,166.5 355.3,166.8 357.0,166.7C358.7,166.6 360.2,166.0 361.6,165.8C363.0,165.6 363.9,165.4 365.3,165.6C366.7,165.8 368.5,166.5 369.9,166.7C371.3,166.8 372.0,166.7 373.5,166.5C375.0,166.3 377.5,165.8 379.0,165.8C380.5,165.8 381.5,166.1 382.7,166.7C383.9,167.3 385.2,168.7 386.0,169.2C386.8,169.7 386.8,169.4 387.6,169.8C388.4,170.2 389.5,171.6 390.6,171.7C391.8,171.8 393.3,170.7 394.5,170.5C395.7,170.3 396.7,170.1 397.6,170.5C398.5,170.9 399.1,171.9 399.9,173.2C400.7,174.5 401.4,176.6 402.2,178.2C403.0,179.8 403.7,181.4 404.6,182.5C405.5,183.6 406.5,184.3 407.6,184.7C408.8,185.1 410.3,185.0 411.5,185.1C412.7,185.2 413.7,184.6 414.6,185.1C415.5,185.6 416.2,186.8 416.9,187.8C417.5,188.8 418.0,189.8 418.5,191.0C419.0,192.2 419.2,192.9 419.7,194.7C420.1,196.5 420.7,199.4 421.2,201.7C421.7,204.0 422.4,206.9 422.8,208.6C423.2,210.3 423.3,210.1 423.8,212.0C424.3,213.9 425.4,217.3 426.0,220.1C426.6,222.8 427.1,225.7 427.7,228.5C428.3,231.3 429.2,234.5 429.9,237.0C430.6,239.5 431.1,241.6 431.9,243.7C432.6,245.8 433.5,248.0 434.4,249.6C435.2,251.2 436.0,252.1 437.0,253.0C438.0,253.9 439.1,254.5 440.3,254.9C441.5,255.3 443.4,255.3 444.0,255.4" stroke="#b06020" stroke-width="1.15" stroke-dasharray="1.12 1.68"/>
</g>
<path d="M600.3,13.00H633.8" stroke="#ff0000" stroke-width="0.85" fill="none"/>
<path d="M600.3,24.70H633.8" stroke="#3418e4" stroke-width="0.85" fill="none" stroke-dasharray="4.47 2.23"/>
<path d="M600.3,36.40H633.8" stroke="#2e8b57" stroke-width="0.85" fill="none" stroke-dasharray="2.23 3.35"/>
<path d="M600.3,48.45H633.8" stroke="#b06020" stroke-width="0.85" fill="none" stroke-dasharray="1.12 1.68"/>
<path d="M600.3,139.50H633.8" stroke="#ff0000" stroke-width="0.85" fill="none"/>
<path d="M600.3,151.50H633.8" stroke="#3418e4" stroke-width="0.85" fill="none" stroke-dasharray="4.47 2.23"/>
<path d="M600.3,163.40H633.8" stroke="#2e8b57" stroke-width="0.85" fill="none" stroke-dasharray="2.23 3.35"/>
<path d="M600.3,175.00H633.8" stroke="#b06020" stroke-width="0.85" fill="none" stroke-dasharray="1.12 1.68"/>
<g stroke="#000" stroke-width="1.25" fill="none" stroke-linecap="butt">
<path d="M51.5,2.5H648.5" stroke-width="1.2"/>
<path d="M52.25,2.5V256.85M647.75,2.5V256.85" stroke-width="1.5"/>
<path d="M52.25,129.0H647.75" stroke-width="1.55"/>
<path d="M52.25,256.0H647.75" stroke-width="1.7" stroke="#1c1c1c"/>
<path d="M158.59,2.5v4.5M158.59,124.5v9.0M158.59,256.0v-4.5M264.93,2.5v4.5M264.93,124.5v9.0M264.93,256.0v-4.5M371.27,2.5v4.5M371.27,124.5v9.0M371.27,256.0v-4.5M477.61,2.5v4.5M477.61,124.5v9.0M477.61,256.0v-4.5M583.95,2.5v4.5M583.95,124.5v9.0M583.95,256.0v-4.5"/>
<path d="M52.25,78.50h4.6M647.75,78.50h-4.6M52.25,205.35h4.6M647.75,205.35h-4.6M52.25,27.90h4.6M647.75,27.90h-4.6M52.25,154.55h4.6M647.75,154.55h-4.6" stroke-width="1.4"/>
</g>
<g style="filter:grayscale(1)">
<text transform="translate(592.90,17.15) scale(1,1.11)" text-anchor="end"><tspan font-style="italic" dx="0.8">r</tspan><tspan dx="-0.8" dy="1.2"> =</tspan><tspan dy="-1.2"> 1</tspan></text>
<text transform="translate(593.60,28.95) scale(1,1.11)" text-anchor="end">4</text>
<text transform="translate(593.60,40.75) scale(1,1.11)" text-anchor="end">9</text>
<text transform="translate(593.60,52.55) scale(1,1.11)" text-anchor="end">16</text>
<text transform="translate(592.90,144.15) scale(1,1.11)" text-anchor="end"><tspan font-style="italic" dx="0.8">r</tspan><tspan dx="-0.8" dy="1.2"> =</tspan><tspan dy="-1.2"> 1</tspan></text>
<text transform="translate(593.60,155.95) scale(1,1.11)" text-anchor="end">4</text>
<text transform="translate(593.60,167.75) scale(1,1.11)" text-anchor="end">9</text>
<text transform="translate(593.60,179.55) scale(1,1.11)" text-anchor="end">16</text>
<text transform="translate(45.00,133.00) scale(1,1.11)" text-anchor="end">0</text>
<text transform="translate(45.00,260.05) scale(1,1.11)" text-anchor="end">0</text>
<text transform="translate(45.00,83.00) scale(1,1.11)" text-anchor="end">8</text>
<text transform="translate(45.00,209.85) scale(1,1.11)" text-anchor="end">8</text>
<text transform="translate(45.00,32.40) scale(1,1.11)" text-anchor="end">16</text>
<text transform="translate(45.00,159.05) scale(1,1.11)" text-anchor="end">16</text>
<text transform="translate(52.25,271.80) scale(1,1.11)" text-anchor="middle">-1.5</text>
<text transform="translate(158.09,271.80) scale(1,1.11)" text-anchor="middle">-1</text>
<text transform="translate(264.93,271.80) scale(1,1.11)" text-anchor="middle">-0.5</text>
<text transform="translate(372.87,271.80) scale(1,1.11)" text-anchor="middle">0</text>
<text transform="translate(479.01,271.80) scale(1,1.11)" text-anchor="middle">0.5</text>
<text transform="translate(584.95,271.80) scale(1,1.11)" text-anchor="middle">1</text>
<text transform="translate(350.00,283.60) scale(1,1.11)" text-anchor="middle">Normalized coordinate <tspan font-style="italic">z</tspan>-<tspan font-style="italic">z</tspan><tspan font-size="9.36" dy="2.9">0</tspan></text>
<text transform="translate(21.8,66.15) rotate(-90) scale(1,1.11)" text-anchor="middle">Majority density</text>
<text transform="translate(21.8,193.25) rotate(-90) scale(1,1.11)" text-anchor="middle">Minority density</text>
</g>
</svg></body></html>
